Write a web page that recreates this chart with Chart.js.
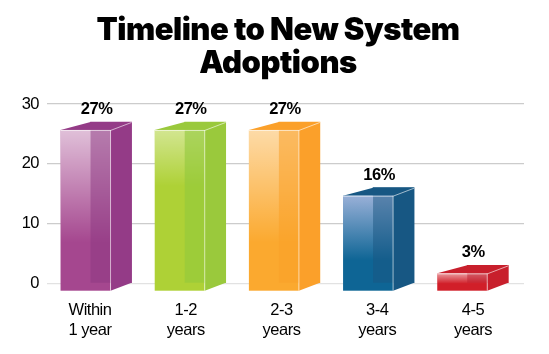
<!DOCTYPE html>
<html>
<head>
<meta charset="utf-8">
<style>
  html, body { margin: 0; padding: 0; background: #fff; }
  canvas { display: block; }
</style>
<script src="https://cdn.jsdelivr.net/npm/chart.js@4"></script>
</head>
<body>
<canvas id="main-chart" width="549" height="354"></canvas>
<script>
const titleLines = ["Timeline to New System", "Adoptions"];
const categories = [["Within", "1 year"], ["1-2", "years"], ["2-3", "years"], ["3-4", "years"], ["4-5", "years"]];
const values = [27, 27, 27, 16, 3];
const yTicks = [0, 10, 20, 30];
const frontColors = ["#a5478f", "#aed136", "#fba92f", "#0e6595", "#d11f29"];
const sideColors = ["#943b87", "#9ac93c", "#fba02a", "#175783", "#c81f2c"];
const overlapColors = ["rgba(140,55,130,0.5)", "rgba(145,200,60,0.6)", "rgba(250,160,40,0.55)", "rgba(25,85,130,0.5)", "rgba(190,30,45,0.5)"];
const glareColors = ["255,255,255", "255,255,255", "255,255,255", "225,215,250", "255,255,255"];
const glareAlpha = [0.66, 0.45, 0.58, 0.66, 0.55];
const glareFade = [0.7, 0.35, 0.7, 0.68, 0.6];

// how far the front face sits from the back face, in pixels
const depthX = 30;
const depthY = 8;
const frontWidth = 50;

// draws the side, top and front of each bar on top of the back face chart.js drew
const bar3d = {
    id: "bar3d",
    beforeDraw(chart) {
        // the original type is narrow, tighten everything a little
        chart.ctx.letterSpacing = "-0.5px";
    },
    afterDatasetsDraw(chart) {
        const ctx = chart.ctx;
        const meta = chart.getDatasetMeta(0);

        meta.data.forEach((bar, i) => {
            const backLeft = bar.x - bar.width / 2;
            const backRight = bar.x + bar.width / 2;
            const left = backLeft - depthX;
            const right = left + frontWidth;
            const top = bar.y + depthY;
            const bottom = bar.base + depthY;
            const glareHeight = (bottom - top) * glareFade[i];

            // side face
            ctx.fillStyle = sideColors[i];
            ctx.beginPath();
            ctx.moveTo(right, top);
            ctx.lineTo(backRight, bar.y);
            ctx.lineTo(backRight, bar.base);
            ctx.lineTo(right, bottom);
            ctx.closePath();
            ctx.fill();

            // top face
            ctx.beginPath();
            ctx.moveTo(left, top);
            ctx.lineTo(backLeft, bar.y);
            ctx.lineTo(backRight, bar.y);
            ctx.lineTo(right, top);
            ctx.closePath();
            ctx.fill();

            // front face with the white glare fading down
            ctx.fillStyle = frontColors[i];
            ctx.fillRect(left, top, frontWidth, bottom - top);

            const glare = ctx.createLinearGradient(0, top, 0, top + glareHeight);
            glare.addColorStop(0, "rgba(" + glareColors[i] + "," + glareAlpha[i] + ")");
            glare.addColorStop(1, "rgba(" + glareColors[i] + ",0)");
            ctx.fillStyle = glare;
            ctx.fillRect(left, top, frontWidth, glareHeight);

            // back face showing through the front
            ctx.fillStyle = overlapColors[i];
            ctx.fillRect(backLeft, top, right - backLeft, bar.base - top);

            // thin light edges
            ctx.strokeStyle = "rgba(255,255,255,0.6)";
            ctx.lineWidth = 1;
            ctx.beginPath();
            ctx.moveTo(left, top + 0.5);
            ctx.lineTo(right, top + 0.5);
            ctx.lineTo(backRight, bar.y + 0.5);
            ctx.moveTo(right, top);
            ctx.lineTo(right, bottom);
            ctx.stroke();

            // value label above the bar
            ctx.fillStyle = "#000";
            ctx.font = "bold 16.5px 'Liberation Sans'";
            ctx.textAlign = "center";
            ctx.textBaseline = "alphabetic";
            ctx.fillText(values[i] + "%", left + 36, bar.y - 8);
        });
    },
};

new Chart(document.getElementById("main-chart"), {
    type: "bar",
    data: {
        datasets: [
            {
                data: values.map((v, i) => ({ x: i, y: v })),
                backgroundColor: sideColors,
                borderWidth: 0,
                barThickness: 41,
                xAxisID: "x",
                yAxisID: "y",
            },
        ],
    },
    plugins: [bar3d],
    options: {
        responsive: false,
        animation: false,
        layout: {
            padding: { left: 7, right: 0, top: 14, bottom: 0 },
        },
        plugins: {
            legend: { display: false },
            tooltip: { enabled: false },
            title: {
                display: true,
                text: titleLines,
                color: "#000",
                font: { family: "Inter", size: 31, weight: 900, lineHeight: 1.065 },
                padding: { top: 0, bottom: 24 },
            },
        },
        scales: {
            // bars sit on this hidden axis, their spacing differs from the labels
            x: {
                type: "linear",
                display: false,
                offset: false,
                min: -0.68,
                max: 4.385,
            },
            xLabels: {
                type: "linear",
                axis: "x",
                position: "bottom",
                offset: false,
                min: -0.449,
                max: 4.533,
                afterBuildTicks(scale) {
                    scale.ticks = categories.map((c, i) => ({ value: i }));
                },
                afterFit(scale) {
                    scale.height = 70.7;
                },
                grid: { display: false },
                border: { display: false },
                ticks: {
                    autoSkip: false,
                    maxRotation: 0,
                    padding: 10,
                    color: "#000",
                    font: { family: "Liberation Sans", size: 16.5, lineHeight: 1.16 },
                    callback: (v) => categories[v],
                },
            },
            y: {
                min: 0,
                max: 30,
                afterBuildTicks(scale) {
                    scale.ticks = yTicks.map((v) => ({ value: v }));
                },
                afterFit(scale) {
                    scale.width = 40;
                },
                grid: {
                    color: (c) => (c.tick.value === 0 ? "#e2e2e2" : "#cccccc"),
                    lineWidth: 1.2,
                    drawTicks: false,
                },
                border: { display: false },
                ticks: {
                    padding: 8,
                    color: "#000",
                    font: { family: "Liberation Sans", size: 16.5 },
                },
            },
            // empty axis, keeps the plot clear of the right edge so the title stays centred
            spacer: {
                type: "linear",
                position: "right",
                grid: { display: false },
                border: { display: false },
                ticks: { display: false },
                afterFit(scale) {
                    scale.width = 25;
                },
            },
        },
    },
});
</script>
</body>
</html>
